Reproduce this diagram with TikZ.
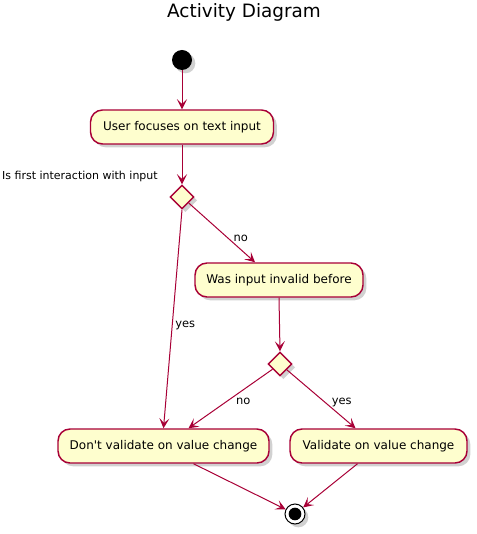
\documentclass[tikz,border=0pt]{standalone}
\usepackage{fontspec}
\setmainfont{DejaVu Sans}
\usetikzlibrary{arrows.meta,shapes.geometric,shadows,calc}
\definecolor{umlred}{HTML}{A80036}
\definecolor{umlfill}{HTML}{FEFECE}
\tikzset{
  shd/.style={drop shadow={shadow xshift=2.5pt,shadow yshift=-2.5pt,opacity=0.3,fill=black!60}},
  actbox/.style={draw=umlred,fill=umlfill,line width=1.1pt,rounded corners=9pt,
    minimum height=25.5pt,inner sep=0pt,font=\fontsize{9}{11}\selectfont,shd},
  decis/.style={diamond,draw=umlred,fill=umlfill,line width=1.1pt,inner sep=0pt,
    minimum width=18pt,minimum height=18pt,shd},
  flow/.style={draw=umlred,line width=0.75pt,-{Stealth[length=7.5pt,width=7.5pt,inset=3.5pt]}},
  lbl/.style={font=\fontsize{8.25}{10}\selectfont,inner sep=0pt},
  elbl/.style={font=\fontsize{8.6}{10}\selectfont,inner sep=0pt},
}
\begin{document}
\begin{tikzpicture}[x=0.75pt,y=-0.75pt]
\useasboundingbox (0,0) rectangle (476,534);
\node[font=\fontsize{13.8}{16}\selectfont] (title) at (244,12) {Activity Diagram};
\node[circle,fill=black,minimum size=15pt,inner sep=0pt,shd] (start) at (182,60) {};
\node[actbox,minimum width=137.25pt] (b1) at (182,127) {User focuses on text input};
\node[decis] (d1) at (182,197) {};
\node[lbl,anchor=east] (q1) at (158,176) {Is first interaction with input};
\node[actbox,minimum width=126pt] (b2) at (279,280) {Was input invalid before};
\node[decis] (d2) at (280,364) {};
\node[actbox,minimum width=158.25pt] (b3) at (163.5,446) {Don\textquotesingle t validate on value change};
\node[actbox,minimum width=132.75pt] (b4) at (378.5,446) {Validate on value change};
\node[circle,draw=black,fill=white,line width=0.75pt,minimum size=15pt,inner sep=0pt,shd] (stop) at (295,514) {};
\node[circle,fill=black,minimum size=9.5pt,inner sep=0pt] (stopin) at (295,514) {};
\draw[flow] (start) -- (b1.north);
\draw[flow] (b1.south) -- (d1.north);
\draw[flow] (d1.south) -- (b3.north) node[elbl,pos=0.53,right=2pt] (yes1) {yes};
\draw[flow] (d1) -- ($(b2.north)+(-24,0)$) node[elbl,pos=0.55,right=6pt,yshift=-2pt] (no1) {no};
\draw[flow] (b2.south) -- (d2.north);
\draw[flow] (d2) -- ($(b3.north)+(25,0)$) node[elbl,pos=0.55,right=7pt] (no2) {no};
\draw[flow] (d2) -- ($(b4.north)+(-23,0)$) node[elbl,pos=0.55,right=5pt] (yes2) {yes};
\draw[flow] ($(b3.south)+(30,0)$) -- (stop);
\draw[flow] ($(b4.south)+(-21,0)$) -- (stop);
\end{tikzpicture}
\end{document}
